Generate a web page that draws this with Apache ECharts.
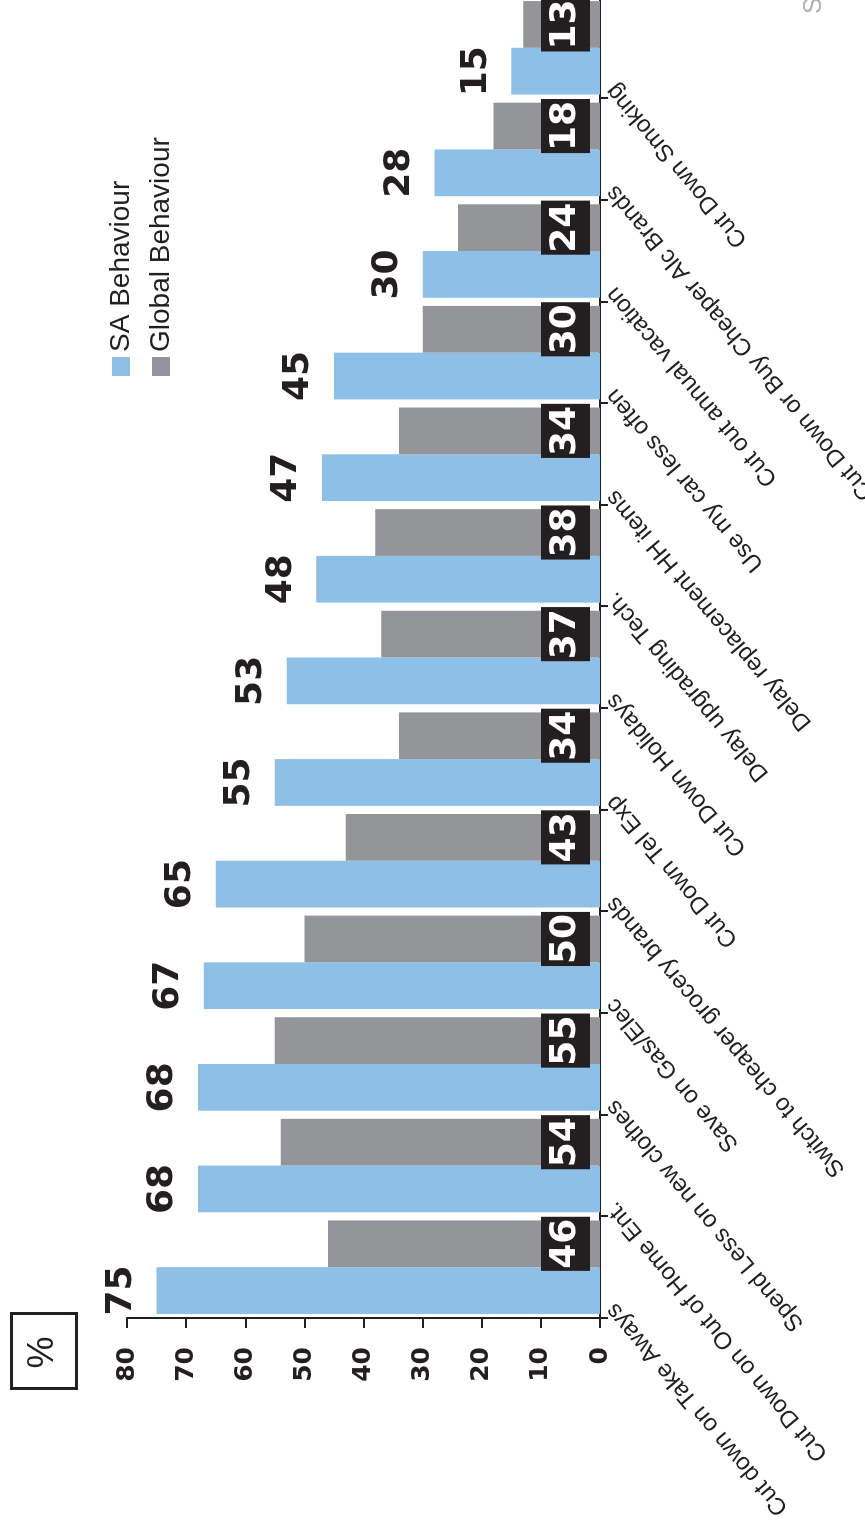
<!DOCTYPE html>
<html>
<head>
<meta charset="utf-8">
<script src="https://cdn.jsdelivr.net/npm/echarts@6/dist/echarts.min.js"></script>
<style>
html,body{margin:0;padding:0;width:865px;height:1538px;overflow:hidden;background:#fff;}
#wrap{position:absolute;left:0;top:0;width:1538px;height:865px;transform-origin:0 0;transform:rotate(-90deg) translate(-1538px,0);}
</style>
</head>
<body>
<div id="wrap"></div>
<script>
const categories = [
  'Cut down on Take Aways',
  'Cut Down on Out of Home Ent.',
  'Spend Less on new clothes',
  'Save on Gas/Elec',
  'Switch to cheaper grocery brands',
  'Cut Down Tel Exp',
  'Cut Down Holidays',
  'Delay upgrading Tech.',
  'Delay replacement HH items',
  'Use my car less often',
  'Cut out annual vacation',
  'Cut Down or Buy Cheaper Alc Brands',
  'Cut Down Smoking'
];
const saBehaviour = [75, 68, 68, 67, 65, 55, 53, 48, 47, 45, 30, 28, 15];
const globalBehaviour = [46, 54, 55, 50, 43, 34, 37, 38, 34, 30, 24, 18, 13];
const seriesNames = ['SA Behaviour', 'Global Behaviour'];
const valueTicks = {min: 0, max: 80, interval: 10};
const unitLabel = '%';
const sourceLabel = 'Source: Nielsen';

const ink = '#231f20';
const chart = echarts.init(document.getElementById('wrap'), null, {renderer: 'canvas'});
chart.setOption({
  animation: false,
  backgroundColor: '#ffffff',
  grid: {left: 220, right: -3, top: 127, bottom: 265, containLabel: false, outerBoundsMode: 'none'},
  legend: {
    orient: 'vertical',
    left: 1157, top: 102,
    itemWidth: 19, itemHeight: 18, itemGap: 12,
    icon: 'rect',
    textStyle: {fontFamily: 'Liberation Sans', fontSize: 28, color: ink},
    data: seriesNames
  },
  xAxis: {
    type: 'category',
    data: categories,
    axisLine: {show: true, lineStyle: {color: ink, width: 2}},
    axisTick: {show: true, length: 8, lineStyle: {color: ink, width: 2}},
    axisLabel: {
      interval: 0, rotate: 40, margin: -22,
      padding: [0, 51, 0, 0],
      fontFamily: 'Liberation Sans', fontSize: 24, color: ink
    }
  },
  yAxis: {
    type: 'value',
    min: valueTicks.min, max: valueTicks.max, interval: valueTicks.interval,
    splitLine: {show: false},
    axisLine: {show: true, lineStyle: {color: ink, width: 2}},
    axisTick: {show: true, length: 10, lineStyle: {color: ink, width: 2}},
    axisLabel: {margin: 29, fontFamily: 'DejaVu Sans', fontWeight: 'bold', fontSize: 25, color: ink}
  },
  series: [
    {
      name: seriesNames[0], type: 'bar', data: saBehaviour,
      barGap: '0%', barCategoryGap: '8%',
      itemStyle: {color: '#8ebfe7'},
      label: {show: true, position: 'top', distance: 17,
        fontFamily: 'DejaVu Sans', fontWeight: 'bold', fontSize: 36, color: ink}
    },
    {
      name: seriesNames[1], type: 'bar', data: globalBehaviour,
      barGap: '0%', barCategoryGap: '8%',
      itemStyle: {color: '#939598'},
      label: {show: true, position: 'insideBottom', distance: 10,
        fontFamily: 'DejaVu Sans', fontWeight: 'bold', fontSize: 36, lineHeight: 40,
        color: '#ffffff', backgroundColor: ink, padding: [5, 2, 4, 2]}
    }
  ],
  graphic: [
    {type: 'rect', left: 148, top: 10, shape: {width: 75, height: 65},
      style: {fill: '#fff', stroke: ink, lineWidth: 3}},
    {type: 'text', x: 185.5, y: 43,
      style: {text: unitLabel, fontFamily: 'Liberation Sans', fontSize: 36, fill: ink, align: 'center', verticalAlign: 'middle'}},
    {type: 'text', x: 1524, y: 814,
      style: {text: sourceLabel, fontFamily: 'Liberation Sans', fontSize: 25, fill: '#b0b0b0', align: 'left', verticalAlign: 'middle'}}
  ]
});
</script>
</body>
</html>
